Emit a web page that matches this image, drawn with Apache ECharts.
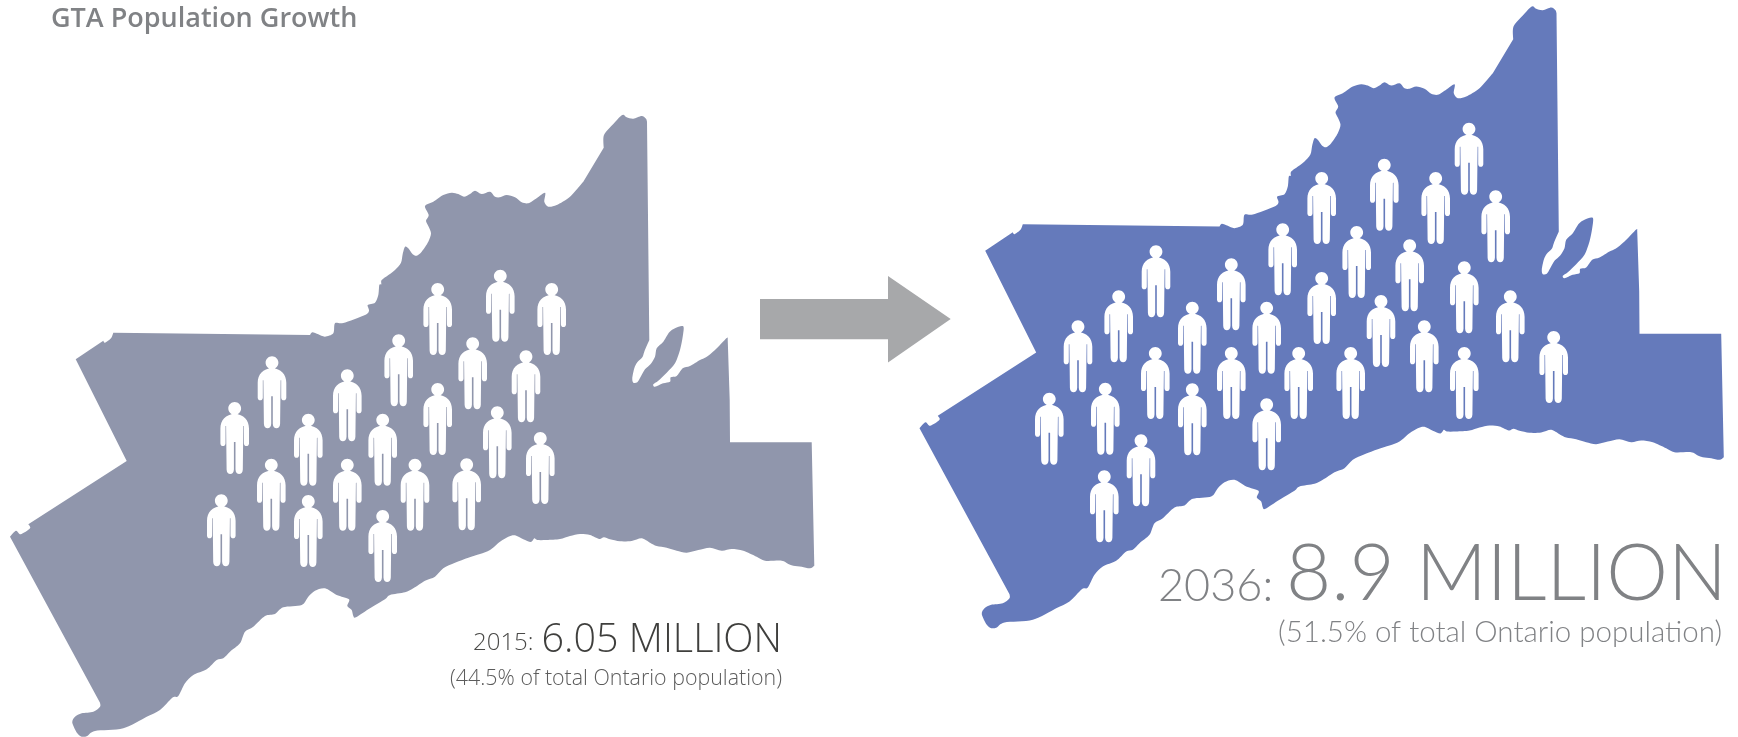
<!DOCTYPE html>
<html>
<head>
<meta charset="utf-8">
<title>GTA Population Growth</title>
<style>
html,body{margin:0;padding:0;background:#fff}
#chart{width:1738px;height:737px}
</style>
<script src="https://cdn.jsdelivr.net/npm/echarts@6/dist/echarts.min.js"></script>
</head>
<body>
<div id="chart"></div>
<script>
// Greater Toronto Area outline, traced clockwise from the northern tip.
const gtaOutline = [
[623.3,114.7],[626.7,117.3],[633.3,118.7],[641.7,116],[646,118.7],[647,121.7],[649.3,340],[644.3,351.7],[642.3,357.3],[637.3,362.3],
[634.3,368.3],[632.3,378.3],[633.3,382.7],[637.3,382.3],[640.7,376.7],[645,369.3],[650.7,364],[655,356.7],[656.7,348.3],[663.3,341.7],
[669.3,332.3],[675,328.3],[681.7,326],[683.7,327.7],[682.7,336.7],[680,350],[675,363.3],[666.7,372.7],[658.3,380.7],[653.3,384.3],
[655,386.7],[663.3,383.3],[670,381.7],[670.7,377.3],[676.7,376],[682.7,368.3],[690,366],[700,360],[706,357.3],[715,350],[726.7,338],
[727.7,338.7],[729.7,400],[730,442.3],[811.7,442.3],[814.3,565.7],[810,568.3],[801.7,566.7],[793.3,565.7],[788.3,564],[781.7,560.7],
[765,560.7],[756.7,556.7],[743.3,550.7],[731.7,549],[721.7,550.7],[710,547.7],[698.3,550],[686.7,552.7],[676.7,550.7],[666.7,547.7],
[656.7,546],[650,542.7],[641.7,538.3],[631.7,541],[620,541.3],[610,539.3],[604,537.3],[599.3,539],[590,535],[580,534],[570,536],
[560,539],[546.7,540],[537.3,540],[534.3,538.3],[531,542],[523.3,539.3],[515,535.3],[508.3,536.7],[500,541.7],[490,550],[480,554],
[468.3,557.7],[455,562.7],[443.3,568.3],[435,576.7],[425,580.7],[413.3,588.3],[405,592.3],[390,595],[385,599.3],[370,608.3],[356,617.3],
[353.3,616],[351.7,610],[347.3,606],[349,599.3],[336.7,595],[325,588.3],[315,590.7],[308.3,596.7],[301.7,605],[283.3,607.3],[275,614],
[265,616],[253.3,626.7],[245,631.7],[240,643.3],[230,651.7],[223.3,658.3],[216.7,660],[206.7,669.3],[193.3,675],[185,683.3],[178.3,696],
[172.3,697.7],[160,710],[146.7,716.7],[123.3,728.3],[95,731],[87.3,736],[81.7,736.7],[77.3,733.3],[72.3,722.7],[75,716.7],[81.7,713.3],
[93.3,711.7],[100,706.7],[100,702.7],[10,536.7],[16,530.7],[20.7,534.3],[30,528.3],[28.3,524.3],[126.7,461],[75.7,359.3],[103.3,340.7],
[105,342.7],[111,338.3],[113.3,332.7],[310,335],[312.3,332.3],[318.3,334.3],[325,336.7],[333.3,333.3],[335,323.3],[343.3,323],[365,315],
[369,310.7],[367.7,305],[375,302.7],[378.3,295],[379.3,285],[381.3,284.3],[381.7,280],[390,274],[395,270],[401,262.7],[402.7,254],
[405,246.7],[408.3,248.3],[412.7,254.3],[416.7,255.7],[421.7,251.7],[428.3,241.7],[431,233.3],[428.3,226],[426,220.7],[428.7,215],
[425,206],[433.3,201.7],[443.3,195],[451.7,192.7],[458.3,194],[464,196.7],[470,194],[475,190.7],[481.7,194],[490,191.7],[495,196.7],
[500,197.3],[506.7,195],[515,197.3],[521.7,202.3],[528.3,203.3],[535,199.3],[545,192.7],[544.3,201.7],[548.3,206.7],[556.7,205],
[570,196.7],[583.3,181.7],[603.7,147.7],[604,135],[613.3,124],[620,116.7]
];

// Offset of each year's copy of the outline on the sheet.
const regionYears = ['2015', '2036'];
const regionShift = [[0, 0], [909.5, -108.5]];
const regionColors = ['#9096ac', '#657abb'];

// Figures scattered over each region.
const people2015 = [
[234.7,437],[308.3,448.7],[382.7,448.7],[271.3,493.7],[347.3,493.7],[415,493.7],[221.3,529.3],
[308.3,530],[382.7,545],[272,391.3],[347.3,404.3],[398.7,369.3],[437.7,318],[500.3,304.7],
[551.7,318],[472.7,372.3],[526,385.3],[437.7,418],[497.3,441.3],[540.3,467],[466.7,493.3]
];
const people2036 = [
[1156,280.3],[1231.3,293.3],[1282.7,258.3],[1321.7,207],[1321.7,307],[1118.7,325.3],[1192.3,336.7],
[1266.7,336.7],[1078,355.3],[1155.3,382],[1231.3,382],[1298.7,382],[1049.3,427.7],[1105.3,417.7],
[1192.3,418.3],[1266.7,433.3],[1141,469.3],[1104.3,505.3],[1469,157.7],[1384.3,193.7],[1435.7,207],
[1495.7,225.3],[1356.7,261],[1409.7,274.3],[1464.3,296.3],[1510.3,325.3],[1381,330],[1424.3,355.3],
[1350.7,382],[1464.3,382],[1553.7,366]
];

// Arrow between the two maps.
const arrowOutline = [[760,299],[888,299],[888,276],[950.7,319],[888,362.5],[888,339.3],[760,339.3]];

const titleText = 'GTA Population Growth';
const yearLabels = ['2015:', '2036:'];
const valueLabels = ['6.05 MILLION', '8.9 MILLION'];
const shareLabels = ['(44.5% of total Ontario population)', '(51.5% of total Ontario population)'];

const personPath = 'path://M14.5 0C11 0 8.1 2.9 8.1 6.4C8.1 9.9 11 12.8 14.5 12.8C18 12.8 20.9 9.9 20.9 6.4C20.9 2.9 18 0 14.5 0Z' +
  'M14.5 12C5.5 12.2 0.2 18 0.2 26.5L0.2 41.5C0.2 44.9 5.3 44.9 5.3 41.5L5.3 24L5.9 24L6.4 67.5C6.4 73.6 13.7 73.6 13.7 67.5' +
  'L13.7 40L15.3 40L15.3 67.5C15.3 73.6 22.6 73.6 22.6 67.5L23.1 24L23.7 24L23.7 41.5C23.7 44.9 28.8 44.9 28.8 41.5L28.8 26.5C28.8 18 23.5 12.2 14.5 12Z';

// Turns a closed ring of pixel points into a path: short runs follow a soft curve,
// long boundary segments stay straight.
function ringPath(pts) {
  const n = pts.length;
  const far = (a, b) => Math.hypot(a[0] - b[0], a[1] - b[1]) > 30;
  let d = 'M' + pts[0][0] + ' ' + pts[0][1];
  for (let i = 0; i < n; i++) {
    const p0 = pts[(i - 1 + n) % n], p1 = pts[i], p2 = pts[(i + 1) % n], p3 = pts[(i + 2) % n];
    if (far(p1, p2)) {
      d += 'L' + p2[0] + ' ' + p2[1];
      continue;
    }
    const a = far(p0, p1) ? p1 : p0, b = far(p2, p3) ? p2 : p3;
    const k = 1 / 7;
    d += 'C' + (p1[0] + (p2[0] - a[0]) * k) + ' ' + (p1[1] + (p2[1] - a[1]) * k) + ' ' +
      (p2[0] - (b[0] - p1[0]) * k) + ' ' + (p2[1] - (b[1] - p1[1]) * k) + ' ' + p2[0] + ' ' + p2[1];
  }
  return d + 'Z';
}

const personSeries = (data) => ({
  type: 'scatter',
  data: data,
  symbol: personPath,
  symbolSize: [28.6, 72],
  symbolOffset: [0, 1],
  itemStyle: { color: '#ffffff', opacity: 1 },
  silent: true,
  z: 3
});

const chart = echarts.init(document.getElementById('chart'), null, { renderer: 'canvas' });

const caption = (text, x, y, size, color, family, weight, align) => ({
  type: 'text',
  x: x,
  y: y,
  silent: true,
  style: {
    text: text,
    fontSize: size,
    fontFamily: family,
    fontWeight: weight,
    fill: color,
    align: align || 'left',
    verticalAlign: 'bottom'
  }
});

chart.setOption({
  animation: false,
  backgroundColor: '#ffffff',
  grid: { left: 0, right: 0, top: 0, bottom: 0 },
  xAxis: { type: 'value', min: 0, max: 1738, show: false },
  yAxis: { type: 'value', min: 0, max: 737, inverse: true, show: false },
  series: [
    {
      type: 'custom',
      name: 'GTA',
      data: regionYears.map((y, i) => [i]),
      silent: true,
      z: 1,
      renderItem: (params, api) => {
        const i = api.value(0);
        const [dx, dy] = regionShift[i];
        const ring = gtaOutline.map(p => api.coord([p[0] + dx, p[1] + dy]));
        return {
          type: 'path',
          shape: { pathData: ringPath(ring) },
          style: { fill: regionColors[i] }
        };
      }
    },
    {
      type: 'custom',
      name: 'Arrow',
      data: [[0]],
      silent: true,
      z: 1,
      renderItem: (params, api) => ({
        type: 'polygon',
        shape: { points: arrowOutline.map(p => api.coord(p)) },
        style: { fill: '#a7a8aa' }
      })
    },
    personSeries(people2015),
    personSeries(people2036)
  ],
  graphic: { elements: [
    caption(titleText, 51, 33, 27, '#808285', '"Open Sans"', 600),
    caption(yearLabels[0], 473, 655, 24, '#4a4a48', '"Open Sans"', 300),
    caption(valueLabels[0], 782, 661, 39.5, '#3f3f3d', '"Open Sans"', 300, 'right'),
    caption(shareLabels[0], 782, 689, 21.4, '#5c5c5c', '"Open Sans"', 300, 'right'),
    caption(yearLabels[1], 1158, 609, 45, '#808285', 'Lato', 300),
    caption(valueLabels[1], 1727, 614, 78, '#808285', 'Lato', 300, 'right'),
    caption(shareLabels[1], 1722, 647, 29.5, '#808285', 'Lato', 300, 'right')
  ] }
});
</script>
</body>
</html>
